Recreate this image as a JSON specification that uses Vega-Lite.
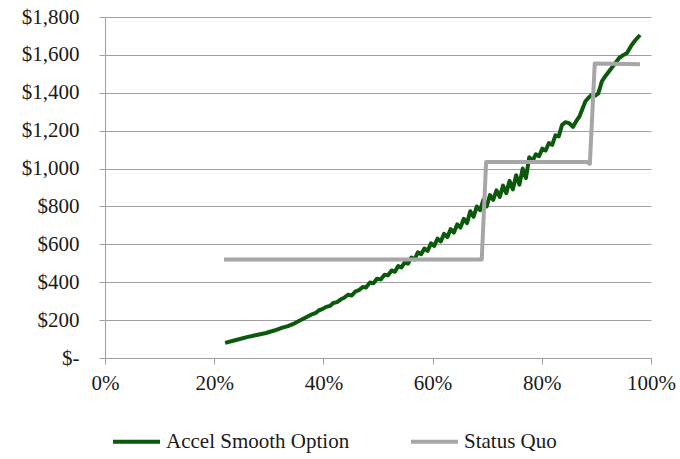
{
  "$schema": "https://vega.github.io/schema/vega-lite/v6.json",
  "width": 546,
  "height": 341,
  "autosize": {"type": "none"},
  "padding": {"left": 105, "top": 17, "right": 29, "bottom": 101},
  "background": "white",
  "config": {
    "view": {"stroke": null},
    "font": "Liberation Serif"
  },
  "data": {
    "values": [
      {"x": 22.0, "y": 80, "s": "Accel Smooth Option"},
      {"x": 24.0, "y": 95, "s": "Accel Smooth Option"},
      {"x": 26.0, "y": 110, "s": "Accel Smooth Option"},
      {"x": 28.0, "y": 123, "s": "Accel Smooth Option"},
      {"x": 29.5, "y": 132, "s": "Accel Smooth Option"},
      {"x": 31.0, "y": 145, "s": "Accel Smooth Option"},
      {"x": 32.5, "y": 160, "s": "Accel Smooth Option"},
      {"x": 33.5, "y": 168, "s": "Accel Smooth Option"},
      {"x": 34.5, "y": 180, "s": "Accel Smooth Option"},
      {"x": 35.5, "y": 195, "s": "Accel Smooth Option"},
      {"x": 36.5, "y": 210, "s": "Accel Smooth Option"},
      {"x": 37.3, "y": 222, "s": "Accel Smooth Option"},
      {"x": 38.0, "y": 232, "s": "Accel Smooth Option"},
      {"x": 38.6, "y": 238, "s": "Accel Smooth Option"},
      {"x": 39.2, "y": 252, "s": "Accel Smooth Option"},
      {"x": 39.8, "y": 258, "s": "Accel Smooth Option"},
      {"x": 40.5, "y": 270, "s": "Accel Smooth Option"},
      {"x": 41.2, "y": 275, "s": "Accel Smooth Option"},
      {"x": 41.8, "y": 290, "s": "Accel Smooth Option"},
      {"x": 42.5, "y": 295, "s": "Accel Smooth Option"},
      {"x": 43.2, "y": 310, "s": "Accel Smooth Option"},
      {"x": 43.8, "y": 318, "s": "Accel Smooth Option"},
      {"x": 44.5, "y": 334, "s": "Accel Smooth Option"},
      {"x": 45.2, "y": 330, "s": "Accel Smooth Option"},
      {"x": 45.8, "y": 350, "s": "Accel Smooth Option"},
      {"x": 46.5, "y": 358, "s": "Accel Smooth Option"},
      {"x": 47.2, "y": 375, "s": "Accel Smooth Option"},
      {"x": 47.8, "y": 372, "s": "Accel Smooth Option"},
      {"x": 48.5, "y": 398, "s": "Accel Smooth Option"},
      {"x": 49.2, "y": 395, "s": "Accel Smooth Option"},
      {"x": 49.8, "y": 418, "s": "Accel Smooth Option"},
      {"x": 50.5, "y": 415, "s": "Accel Smooth Option"},
      {"x": 51.2, "y": 440, "s": "Accel Smooth Option"},
      {"x": 51.8, "y": 436, "s": "Accel Smooth Option"},
      {"x": 52.5, "y": 462, "s": "Accel Smooth Option"},
      {"x": 53.1, "y": 455, "s": "Accel Smooth Option"},
      {"x": 53.7, "y": 485, "s": "Accel Smooth Option"},
      {"x": 54.3, "y": 478, "s": "Accel Smooth Option"},
      {"x": 54.9, "y": 505, "s": "Accel Smooth Option"},
      {"x": 55.5, "y": 498, "s": "Accel Smooth Option"},
      {"x": 56.1, "y": 530, "s": "Accel Smooth Option"},
      {"x": 56.7, "y": 520, "s": "Accel Smooth Option"},
      {"x": 57.3, "y": 558, "s": "Accel Smooth Option"},
      {"x": 57.9, "y": 548, "s": "Accel Smooth Option"},
      {"x": 58.5, "y": 578, "s": "Accel Smooth Option"},
      {"x": 59.1, "y": 566, "s": "Accel Smooth Option"},
      {"x": 59.7, "y": 605, "s": "Accel Smooth Option"},
      {"x": 60.3, "y": 592, "s": "Accel Smooth Option"},
      {"x": 60.9, "y": 630, "s": "Accel Smooth Option"},
      {"x": 61.5, "y": 615, "s": "Accel Smooth Option"},
      {"x": 62.1, "y": 655, "s": "Accel Smooth Option"},
      {"x": 62.7, "y": 638, "s": "Accel Smooth Option"},
      {"x": 63.3, "y": 680, "s": "Accel Smooth Option"},
      {"x": 63.9, "y": 662, "s": "Accel Smooth Option"},
      {"x": 64.5, "y": 705, "s": "Accel Smooth Option"},
      {"x": 65.1, "y": 688, "s": "Accel Smooth Option"},
      {"x": 65.7, "y": 735, "s": "Accel Smooth Option"},
      {"x": 66.3, "y": 712, "s": "Accel Smooth Option"},
      {"x": 66.9, "y": 775, "s": "Accel Smooth Option"},
      {"x": 67.5, "y": 745, "s": "Accel Smooth Option"},
      {"x": 68.1, "y": 800, "s": "Accel Smooth Option"},
      {"x": 68.7, "y": 780, "s": "Accel Smooth Option"},
      {"x": 69.3, "y": 835, "s": "Accel Smooth Option"},
      {"x": 69.9, "y": 800, "s": "Accel Smooth Option"},
      {"x": 70.5, "y": 860, "s": "Accel Smooth Option"},
      {"x": 71.1, "y": 835, "s": "Accel Smooth Option"},
      {"x": 71.7, "y": 885, "s": "Accel Smooth Option"},
      {"x": 72.3, "y": 850, "s": "Accel Smooth Option"},
      {"x": 72.9, "y": 910, "s": "Accel Smooth Option"},
      {"x": 73.5, "y": 870, "s": "Accel Smooth Option"},
      {"x": 74.1, "y": 935, "s": "Accel Smooth Option"},
      {"x": 74.7, "y": 890, "s": "Accel Smooth Option"},
      {"x": 75.3, "y": 965, "s": "Accel Smooth Option"},
      {"x": 75.9, "y": 915, "s": "Accel Smooth Option"},
      {"x": 76.5, "y": 1000, "s": "Accel Smooth Option"},
      {"x": 77.1, "y": 950, "s": "Accel Smooth Option"},
      {"x": 77.7, "y": 1060, "s": "Accel Smooth Option"},
      {"x": 78.3, "y": 1040, "s": "Accel Smooth Option"},
      {"x": 78.9, "y": 1075, "s": "Accel Smooth Option"},
      {"x": 79.5, "y": 1065, "s": "Accel Smooth Option"},
      {"x": 80.1, "y": 1105, "s": "Accel Smooth Option"},
      {"x": 80.7, "y": 1095, "s": "Accel Smooth Option"},
      {"x": 81.3, "y": 1135, "s": "Accel Smooth Option"},
      {"x": 81.9, "y": 1125, "s": "Accel Smooth Option"},
      {"x": 82.5, "y": 1175, "s": "Accel Smooth Option"},
      {"x": 83.1, "y": 1170, "s": "Accel Smooth Option"},
      {"x": 83.7, "y": 1230, "s": "Accel Smooth Option"},
      {"x": 84.3, "y": 1245, "s": "Accel Smooth Option"},
      {"x": 85.0, "y": 1240, "s": "Accel Smooth Option"},
      {"x": 85.7, "y": 1220, "s": "Accel Smooth Option"},
      {"x": 86.3, "y": 1250, "s": "Accel Smooth Option"},
      {"x": 86.9, "y": 1275, "s": "Accel Smooth Option"},
      {"x": 87.5, "y": 1320, "s": "Accel Smooth Option"},
      {"x": 88.0, "y": 1355, "s": "Accel Smooth Option"},
      {"x": 88.6, "y": 1375, "s": "Accel Smooth Option"},
      {"x": 89.2, "y": 1390, "s": "Accel Smooth Option"},
      {"x": 89.8, "y": 1385, "s": "Accel Smooth Option"},
      {"x": 90.3, "y": 1395, "s": "Accel Smooth Option"},
      {"x": 90.6, "y": 1420, "s": "Accel Smooth Option"},
      {"x": 91.0, "y": 1460, "s": "Accel Smooth Option"},
      {"x": 91.7, "y": 1490, "s": "Accel Smooth Option"},
      {"x": 92.5, "y": 1520, "s": "Accel Smooth Option"},
      {"x": 93.3, "y": 1550, "s": "Accel Smooth Option"},
      {"x": 94.2, "y": 1585, "s": "Accel Smooth Option"},
      {"x": 95.0, "y": 1600, "s": "Accel Smooth Option"},
      {"x": 95.6, "y": 1610, "s": "Accel Smooth Option"},
      {"x": 96.4, "y": 1650, "s": "Accel Smooth Option"},
      {"x": 97.2, "y": 1680, "s": "Accel Smooth Option"},
      {"x": 98.0, "y": 1705, "s": "Accel Smooth Option"},
      {"x": 21.8, "y": 520, "s": "Status Quo"},
      {"x": 69.0, "y": 520, "s": "Status Quo"},
      {"x": 69.8, "y": 1035, "s": "Status Quo"},
      {"x": 88.2, "y": 1035, "s": "Status Quo"},
      {"x": 88.8, "y": 1025, "s": "Status Quo"},
      {"x": 89.7, "y": 1555, "s": "Status Quo"},
      {"x": 98.0, "y": 1550, "s": "Status Quo"}
    ]
  },
  "mark": {"type": "line", "strokeWidth": 4, "strokeJoin": "round", "strokeCap": "butt"},
  "encoding": {
    "x": {
      "field": "x",
      "type": "quantitative",
      "scale": {"domain": [0, 100], "nice": false},
      "axis": {
        "title": null,
        "values": [0, 20, 40, 60, 80, 100],
        "labelExpr": "datum.value + '%'",
        "grid": false,
        "domainColor": "#A0A0A0",
        "tickColor": "#A0A0A0",
        "tickSize": 6,
        "labelPadding": 8,
        "labelFontSize": 21,
        "labelFont": "Liberation Serif",
        "labelColor": "#1a1a1a",
        "labelFlush": false
      }
    },
    "y": {
      "field": "y",
      "type": "quantitative",
      "scale": {"domain": [0, 1800], "nice": false},
      "axis": {
        "title": null,
        "values": [0, 200, 400, 600, 800, 1000, 1200, 1400, 1600, 1800],
        "labelExpr": "datum.value == 0 ? '$-\u00a0\u00a0\u00a0' : '$' + format(datum.value, ',')",
        "grid": true,
        "gridColor": "#A0A0A0",
        "gridWidth": 1,
        "domainColor": "#A0A0A0",
        "tickColor": "#A0A0A0",
        "tickSize": 6,
        "labelPadding": 20,
        "labelFontSize": 21,
        "labelFont": "Liberation Serif",
        "labelColor": "#1a1a1a"
      }
    },
    "color": {
      "field": "s",
      "type": "nominal",
      "scale": {"domain": ["Accel Smooth Option", "Status Quo"], "range": ["#0B5A0B", "#A6A6A6"]},
      "legend": {
        "title": null,
        "orient": "none",
        "direction": "horizontal",
        "legendX": 6,
        "legendY": 399,
        "symbolType": "stroke",
        "symbolSize": 2209,
        "symbolStrokeWidth": 4,
        "labelFontSize": 21,
        "labelFont": "Liberation Serif",
        "labelColor": "#1a1a1a",
        "labelOffset": 4,
        "columnPadding": 53,
        "labelLimit": 400
      }
    },
    "detail": {"field": "s"}
  }
}
